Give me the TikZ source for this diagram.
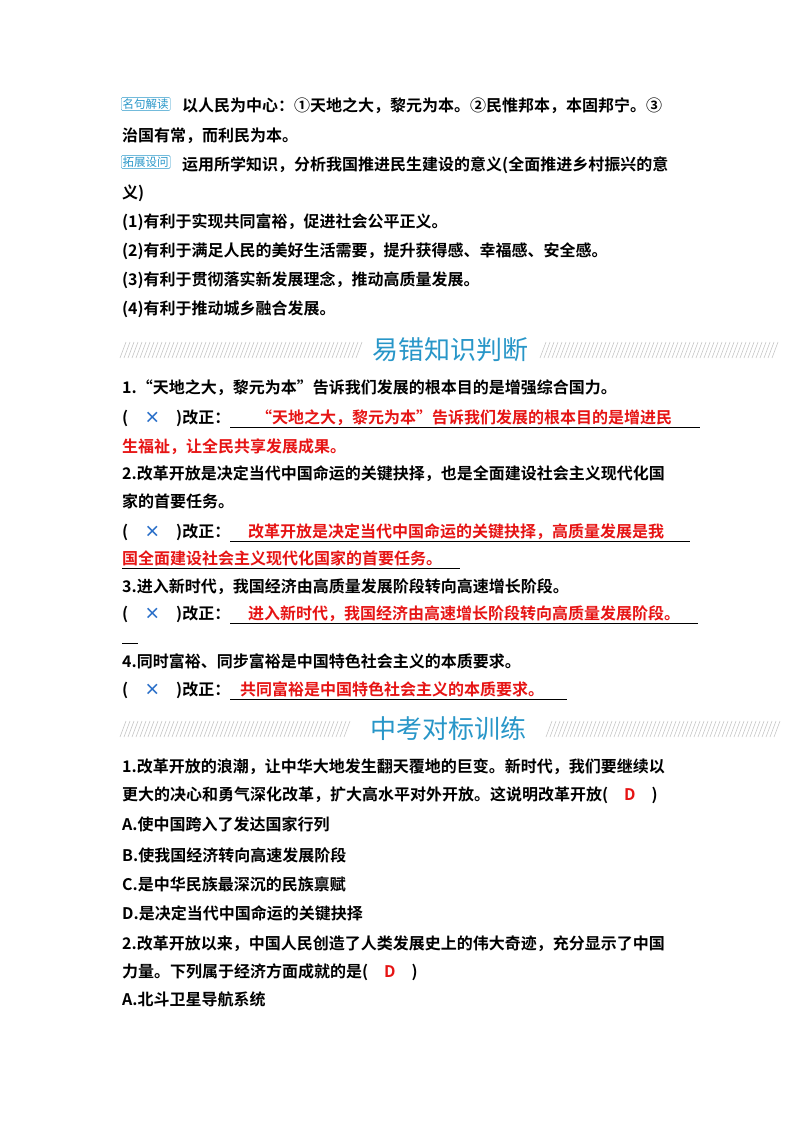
\documentclass[tikz,border=0pt]{standalone}
\usepackage{fontspec}
\setmainfont{Liberation Sans}
\newfontfamily\cjk{Noto Sans CJK SC}[BoldFont={Noto Sans CJK SC Bold}]
\definecolor{hdr}{RGB}{40,150,200}
\definecolor{rd}{RGB}{230,20,20}
\definecolor{xb}{RGB}{40,110,200}
\begin{document}
\begin{tikzpicture}[x=1pt,y=-1pt,
  t/.style={anchor=base west,inner sep=0pt,font=\cjk\bfseries\fontsize{16}{18}\selectfont},
  r/.style={t,text=rd},
  hd/.style={inner sep=0pt,text=hdr,font=\cjk\fontsize{26}{28}\selectfont},
  tag/.style={draw=hdr,rounded corners=1pt,inner xsep=1.5pt,inner ysep=1pt,text=hdr,font=\cjk\fontsize{11.5}{12}\selectfont,anchor=west}]
\useasboundingbox (0,0) rectangle (800,1132);
\node[tag] (g1) at (121,104) {名句解读};
\node[t] (l1) at (182,111) {以人民为中心：①天地之大，黎元为本。②民惟邦本，本固邦宁。③};
\node[t] (l2) at (122,141) {治国有常，而利民为本。};
\node[tag] (g2) at (121,162) {拓展设问};
\node[t] (l3) at (182,170) {运用所学知识，分析我国推进民生建设的意义(全面推进乡村振兴的意};
\node[t] (l4) at (122,198) {义)};
\node[t] (l5) at (122,227) {(1)有利于实现共同富裕，促进社会公平正义。};
\node[t] (l6) at (122,256) {(2)有利于满足人民的美好生活需要，提升获得感、幸福感、安全感。};
\node[t] (l7) at (122,285) {(3)有利于贯彻落实新发展理念，推动高质量发展。};
\node[t] (l8) at (122,314) {(4)有利于推动城乡融合发展。};
% header 1
\foreach \i in {120,124,...,358}{\draw[gray!45,line width=0.6pt] (\i,358) -- (\i+6,342);}
\foreach \i in {540,544,...,774}{\draw[gray!45,line width=0.6pt] (\i,358) -- (\i+6,342);}
\node[hd] (h1) at (450,350) {易错知识判断};
\node[t] (a1) at (122,393) {1.“天地之大，黎元为本”告诉我们发展的根本目的是增强综合国力。};
\node[t] (b1) at (122,423) {(\quad\textcolor{xb}{×}\quad)改正：};
\node[r] (c1) at (256,423) {“天地之大，黎元为本”告诉我们发展的根本目的是增进民};
\node[r] (d1) at (122,452) {生福祉，让全民共享发展成果。};
\draw (230,427) -- (700,427);
\node[t] (a2) at (122,479) {2.改革开放是决定当代中国命运的关键抉择，也是全面建设社会主义现代化国};
\node[t] (a2b) at (122,507) {家的首要任务。};
\node[t] (b2) at (122,537) {(\quad\textcolor{xb}{×}\quad)改正：};
\node[r] (c2) at (248,537) {改革开放是决定当代中国命运的关键抉择，高质量发展是我};
\node[r] (d2) at (122,564) {国全面建设社会主义现代化国家的首要任务。};
\draw (230,541) -- (690,541);
\draw (122,568) -- (460,568);
\node[t] (a3) at (122,592) {3.进入新时代，我国经济由高质量发展阶段转向高速增长阶段。};
\node[t] (b3) at (122,619) {(\quad\textcolor{xb}{×}\quad)改正：};
\node[r] (c3) at (248,619) {进入新时代，我国经济由高速增长阶段转向高质量发展阶段。};
\draw (230,623) -- (698,623);
\draw (122,643) -- (138,643);
\node[t] (a4) at (122,667) {4.同时富裕、同步富裕是中国特色社会主义的本质要求。};
\node[t] (b4) at (122,695) {(\quad\textcolor{xb}{×}\quad)改正：};
\node[r] (c4) at (240,695) {共同富裕是中国特色社会主义的本质要求。};
\draw (230,699) -- (567,699);
% header 2
\foreach \i in {120,124,...,346}{\draw[gray!45,line width=0.6pt] (\i,737) -- (\i+6,721);}
\foreach \i in {546,550,...,774}{\draw[gray!45,line width=0.6pt] (\i,737) -- (\i+6,721);}
\node[hd] (h2) at (448,729) {中考对标训练};
\node[t] (q1) at (122,772) {1.改革开放的浪潮，让中华大地发生翻天覆地的巨变。新时代，我们要继续以};
\node[t] (q1b) at (122,800) {更大的决心和勇气深化改革，扩大高水平对外开放。这说明改革开放(\quad\textcolor{rd}{D}\quad)};
\node[t] (o1) at (122,830) {A.使中国跨入了发达国家行列};
\node[t] (o2) at (122,861) {B.使我国经济转向高速发展阶段};
\node[t] (o3) at (122,890) {C.是中华民族最深沉的民族禀赋};
\node[t] (o4) at (122,919) {D.是决定当代中国命运的关键抉择};
\node[t] (q2) at (122,949) {2.改革开放以来，中国人民创造了人类发展史上的伟大奇迹，充分显示了中国};
\node[t] (q2b) at (122,977) {力量。下列属于经济方面成就的是(\quad\textcolor{rd}{D}\quad)};
\node[t] (p1) at (122,1005) {A.北斗卫星导航系统};
\end{tikzpicture}
\end{document}
